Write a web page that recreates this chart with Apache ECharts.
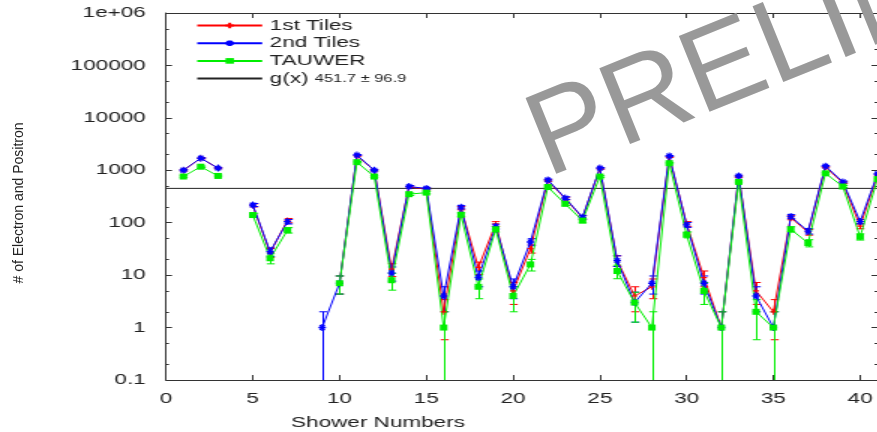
<!DOCTYPE html>
<html>
<head>
<meta charset="utf-8">
<script src="https://cdn.jsdelivr.net/npm/echarts@6/dist/echarts.min.js"></script>
<style>
html, body { margin: 0; padding: 0; background: #fff; overflow: hidden; }
/* the original plot has wide horizontal text, so the chart is drawn narrow and stretched */
#chart { position: absolute; left: 0; top: 0; width: 585px; height: 432px; transform: scaleX(1.5); transform-origin: 0 0; }
#overlay { position: absolute; left: 0; top: 0; width: 877px; height: 432px; pointer-events: none; }
</style>
</head>
<body>
<div id="chart"></div>
<div id="overlay"></div>
<script>
const showers = [1, 2, 3, 4, 5, 6, 7, 8, 9, 10, 11, 12, 13, 14, 15, 16, 17, 18, 19, 20,
  21, 22, 23, 24, 25, 26, 27, 28, 29, 30, 31, 32, 33, 34, 35, 36, 37, 38, 39, 40, 41];
const firstTiles = [1000, 1700, 1100, null, 215, 27, 110, null, null, 7, 1900, 1000, 13, 480, 440, 2, 190, 14, 95, 5,
  32, 640, 290, 125, 1080, 19, 4, 6, 1800, 95, 9, 1, 760, 5, 2, 125, 66, 1150, 580, 86, 820];
const secondTiles = [1000, 1700, 1100, null, 218, 28, 105, null, 1, 7, 1950, 1000, 11, 490, 450, 4, 198, 9, 85, 6,
  43, 656, 295, 127, 1100, 19, 3, 7, 1870, 91, 7, 1, 780, 4, 1, 131, 69, 1200, 600, 105, 850];
const tauwer = [760, 1170, 780, null, 140, 21, 72, null, null, 7, 1430, 760, 8, 350, 375, 1, 142, 6, 75, 4,
  16, 480, 229, 110, 760, 12, 3, 1, 1365, 59, 5, 1, 600, 2, 1, 75, 41, 875, 490, 54, 680];
const fitValue = 451.7;
const fitError = 96.9;

const xTicks = [0, 5, 10, 15, 20, 25, 30, 35, 40];
const yTicks = [0.1, 1, 10, 100, 1000, 10000, 100000, 1000000];
const yTickLabels = ['0.1', '1', '10', '100', '1000', '10000', '100000', '1e+06'];
const yMinorTicks = [0.2, 0.5, 2, 5, 20, 50, 200, 500, 2000, 5000, 20000, 50000, 200000, 500000];

const xMin = 0, xMax = 41, yMin = 0.1, yMax = 1000000;
const font = 'Liberation Sans';

function pairs(vals) {
  return showers.map((s, i) => [s, vals[i]]);
}
function errData(vals) {
  const out = [];
  showers.forEach((s, i) => {
    if (vals[i] != null) out.push([s, vals[i], Math.sqrt(vals[i])]);
  });
  return out;
}
function errRender(color) {
  return function (params, api) {
    const x = api.value(0), v = api.value(1), e = api.value(2);
    const hi = api.coord([x, v + e]);
    const clamped = v - e <= yMin;
    const lo = api.coord([x, clamped ? yMin : v - e]);
    const px = Math.round(hi[0]) + 0.5;
    const w = 2.7;
    const st = { stroke: color, lineWidth: 1 };
    const children = [
      { type: 'line', shape: { x1: px, y1: hi[1], x2: px, y2: lo[1] }, style: st },
      { type: 'line', shape: { x1: px - w, y1: hi[1], x2: px + w, y2: hi[1] }, style: st }
    ];
    if (!clamped) {
      children.push({ type: 'line', shape: { x1: px - w, y1: lo[1], x2: px + w, y2: lo[1] }, style: st });
    }
    return { type: 'group', children: children };
  };
}
function yLabel(v) {
  let best = 0;
  yTicks.forEach((t, i) => {
    if (Math.abs(Math.log10(t) - Math.log10(v)) < Math.abs(Math.log10(yTicks[best]) - Math.log10(v))) best = i;
  });
  return yTickLabels[best];
}

const plusSym = 'path://M0,4H8M4,0V8';
const starSym = 'path://M0,5H10M5,0V10M1.5,1.5L8.5,8.5M8.5,1.5L1.5,8.5';
const frame = '#333';

const chart = echarts.init(document.getElementById('chart'));
chart.setOption({
  animation: false,
  textStyle: { fontFamily: font },
  grid: { left: 110.67, top: 13, width: 476, height: 367 },
  legend: {
    left: 125.5, top: 13, orient: 'vertical',
    itemWidth: 43.3, itemHeight: 7, itemGap: 2.7,
    data: ['1st Tiles', '2nd Tiles', 'TAUWER', { name: 'g(x)', itemStyle: { opacity: 0 } }],
    textStyle: {
      fontFamily: font, fontSize: 15, color: '#222', lineHeight: 14,
      rich: { s: { fontFamily: font, fontSize: 11, color: '#222' } }
    },
    formatter: name => name === 'g(x)' ? 'g(x) {s|' + fitValue + ' \u00b1 ' + fitError + '}' : name
  },
  xAxis: [{
    type: 'value', min: xMin, max: xMax, position: 'bottom',
    axisLine: { lineStyle: { color: frame, width: 1 } },
    axisTick: { inside: true, length: 5, customValues: xTicks, lineStyle: { color: frame } },
    axisLabel: { customValues: xTicks, margin: 11, fontSize: 15, color: '#222', fontFamily: font },
    splitLine: { show: false }
  }, {
    type: 'value', min: xMin, max: xMax, position: 'top',
    axisLine: { lineStyle: { color: frame, width: 1 } },
    axisTick: { inside: true, length: 5, customValues: xTicks, lineStyle: { color: frame } },
    axisLabel: { show: false },
    splitLine: { show: false }
  }],
  yAxis: [{
    type: 'log', logBase: 10, min: yMin, max: yMax, position: 'left',
    axisLine: { show: true, lineStyle: { color: frame, width: 1 } },
    axisTick: { inside: true, length: 4, customValues: yTicks, lineStyle: { color: frame } },
    axisLabel: { customValues: yTicks, margin: 13.5, fontSize: 15, color: '#222', fontFamily: font, formatter: yLabel },
    splitLine: { show: false }
  }, {
    type: 'log', logBase: 10, min: yMin, max: yMax, position: 'left',
    axisLine: { show: false },
    axisTick: { inside: true, length: 2, customValues: yMinorTicks, lineStyle: { color: frame } },
    axisLabel: { show: false },
    splitLine: { show: false }
  }, {
    type: 'log', logBase: 10, min: yMin, max: yMax, position: 'right',
    axisLine: { show: true, lineStyle: { color: frame, width: 1 } },
    axisTick: { inside: true, length: 4, customValues: yTicks, lineStyle: { color: frame } },
    axisLabel: { show: false },
    splitLine: { show: false }
  }, {
    type: 'log', logBase: 10, min: yMin, max: yMax, position: 'right',
    axisLine: { show: false },
    axisTick: { inside: true, length: 2, customValues: yMinorTicks, lineStyle: { color: frame } },
    axisLabel: { show: false },
    splitLine: { show: false }
  }],
  graphic: [{
    type: 'text', x: 252, y: 423,
    style: { text: 'Shower Numbers', fontFamily: font, fontSize: 15, fill: '#222', textAlign: 'center', textVerticalAlign: 'middle' }
  }],
  series: [{
    name: 'g(x)', type: 'line', symbol: 'none',
    data: [[xMin, fitValue], [xMax, fitValue]],
    lineStyle: { color: '#222', width: 1 }, itemStyle: { color: '#222' }
  }, {
    type: 'custom', renderItem: errRender('#ff0000'), data: errData(firstTiles),
    encode: { x: 0, y: 1 }, silent: true
  }, {
    name: '1st Tiles', type: 'line', data: pairs(firstTiles), connectNulls: false,
    symbol: plusSym, symbolSize: [4, 6],
    lineStyle: { color: '#ff0000', width: 1 },
    itemStyle: { color: '#ff0000', borderColor: '#ff0000', borderWidth: 1 }
  }, {
    type: 'custom', renderItem: errRender('#0000ff'), data: errData(secondTiles),
    encode: { x: 0, y: 1 }, silent: true
  }, {
    name: '2nd Tiles', type: 'line', data: pairs(secondTiles), connectNulls: false,
    symbol: starSym, symbolSize: [5, 7],
    lineStyle: { color: '#0000ff', width: 1 },
    itemStyle: { color: '#0000ff', borderColor: '#0000ff', borderWidth: 1.2 }
  }, {
    type: 'custom', renderItem: errRender('#00ee00'), data: errData(tauwer),
    encode: { x: 0, y: 1 }, silent: true
  }, {
    name: 'TAUWER', type: 'line', data: pairs(tauwer), connectNulls: false,
    symbol: 'rect', symbolSize: [5, 6],
    lineStyle: { color: '#00ee00', width: 1 },
    itemStyle: { color: '#00ee00' }
  }]
});

// unstretched texts: axis title and watermark
const overlay = echarts.init(document.getElementById('overlay'));
overlay.setOption({
  animation: false,
  graphic: [{
    type: 'text', x: 19, y: 203, rotation: Math.PI / 2, scaleY: 1.1,
    style: { text: '# of Electron and Positron', fontFamily: font, fontSize: 14, fill: '#222', textAlign: 'center', textVerticalAlign: 'middle' }
  }, {
    type: 'text', x: 535, y: 147, rotation: 22 * Math.PI / 180,
    style: { text: 'PRELIMINARY', fontFamily: font, fontSize: 119, fill: '#999999', textAlign: 'left', textVerticalAlign: 'middle' }
  }]
});
</script>
</body>
</html>
